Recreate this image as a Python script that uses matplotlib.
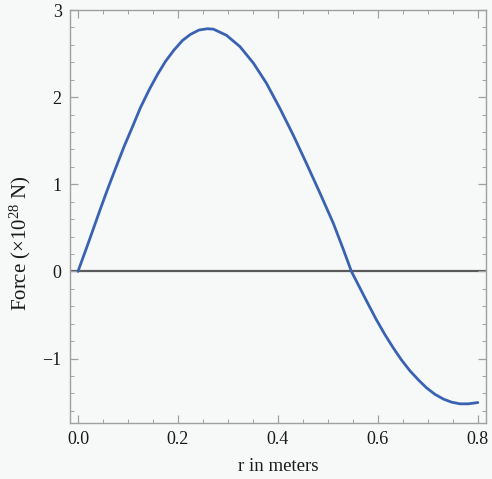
import matplotlib
matplotlib.use("Agg")
import matplotlib.pyplot as plt
from matplotlib.ticker import MultipleLocator, FormatStrFormatter

plt.rcParams['font.family'] = ['Liberation Serif', 'DejaVu Serif']
plt.rcParams['mathtext.fontset'] = 'custom'
plt.rcParams['mathtext.rm'] = 'Liberation Serif'
plt.rcParams['mathtext.it'] = 'Liberation Serif:italic'

# radial position (m) and force (x10^28 N)
r_m = [0.0, 0.019, 0.032, 0.045, 0.059, 0.075, 0.092, 0.109, 0.125, 0.142,
       0.159, 0.175, 0.192, 0.209, 0.225, 0.242, 0.259, 0.271, 0.297, 0.324,
       0.351, 0.377, 0.404, 0.431, 0.457, 0.484, 0.511, 0.531, 0.547, 0.564,
       0.581, 0.597, 0.614, 0.631, 0.647, 0.664, 0.681, 0.697, 0.714, 0.731,
       0.747, 0.764, 0.781, 0.800]
force = [0.0, 0.30, 0.51, 0.72, 0.94, 1.18, 1.43, 1.66, 1.88, 2.08,
         2.26, 2.41, 2.54, 2.65, 2.72, 2.77, 2.785, 2.78, 2.71, 2.58,
         2.39, 2.16, 1.87, 1.56, 1.24, 0.90, 0.55, 0.25, 0.0, -0.19,
         -0.38, -0.555, -0.725, -0.88, -1.015, -1.14, -1.245, -1.335, -1.41, -1.465,
         -1.50, -1.52, -1.52, -1.505]

xticks = [0.0, 0.2, 0.4, 0.6, 0.8]
yticks = [-1, 0, 1, 2, 3]

bg = '#f7f9f8'
fig = plt.figure(figsize=(4.92, 4.79), dpi=100, facecolor=bg)
ax = fig.add_axes([70 / 492, 1 - 423 / 479, (485.6 - 70) / 492, (423 - 10) / 479])
ax.set_facecolor(bg)

ax.axhline(0, color='#5a5a5a', lw=1.6, zorder=1)
ax.plot(r_m, force, color='#3a62b3', lw=2.0, solid_joinstyle='round',
        solid_capstyle='round', zorder=2)

ax.set_xlim(-0.016, 0.8155)
ax.set_ylim(-1.74, 3.0)
ax.set_xticks(xticks)
ax.set_yticks(yticks)
ax.xaxis.set_major_formatter(FormatStrFormatter('%.1f'))
ax.xaxis.set_minor_locator(MultipleLocator(0.05))
ax.yaxis.set_minor_locator(MultipleLocator(0.2))

for s in ax.spines.values():
    s.set_color('#a0a0a0')
    s.set_linewidth(1.0)

ax.tick_params(which='both', direction='in', top=True, right=True,
               color='#a0a0a0', labelsize=13, labelcolor='#1a1a1a')
ax.tick_params(which='major', length=5.5, width=0.9, pad=6)
ax.tick_params(which='minor', length=3, width=0.7)

ax.set_xlabel('r in meters', fontsize=13.5, color='#1a1a1a')
ax.xaxis.set_label_coords(0.5, -0.085)
ax.set_ylabel(r'Force ($\times$10$^{28}$ N)', fontsize=15, color='#1a1a1a')
ax.yaxis.set_label_coords(-0.088, 0.436)

fig.savefig('out.png', dpi=100, facecolor=bg)
